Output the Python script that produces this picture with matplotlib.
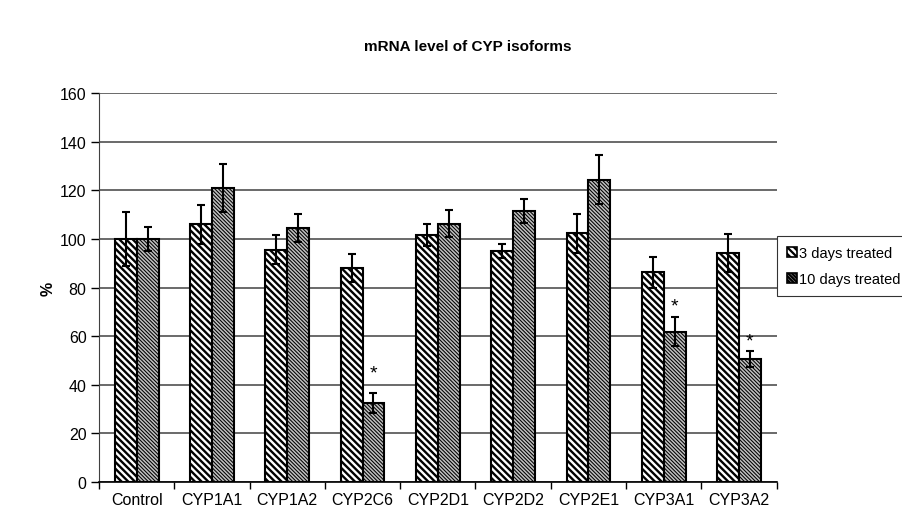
import matplotlib.pyplot as plt
import numpy as np
import matplotlib.patches as mpatches

plt.rcParams['font.family'] = ['Liberation Sans', 'DejaVu Sans']
plt.rcParams['hatch.linewidth'] = 1.6

# data
isoforms = ['Control', 'CYP1A1', 'CYP1A2', 'CYP2C6', 'CYP2D1', 'CYP2D2', 'CYP2E1', 'CYP3A1', 'CYP3A2']
days3 = [100, 106, 95.5, 88, 101.5, 95, 102.3, 86.3, 94.2]
days3_err = [11, 8, 6, 5.7, 4.5, 3, 8, 6.4, 7.7]
days10 = [100, 121, 104.6, 32.5, 106.3, 111.5, 124.4, 61.8, 50.6]
days10_err = [5, 10, 5.8, 4, 5.5, 5, 10, 6, 3.2]
# asterisks (significant, 10 days) and their heights
star_idx = [3, 7, 8]
star_y = [45, 72.5, 58]

hatch3 = '\\' * 5
hatch10 = '\\' * 9

fig = plt.figure(figsize=(9.02, 5.10), dpi=100)
ax = fig.add_axes([0.1098, 0.0529, 0.7512, 0.7628])

x = np.arange(len(isoforms))
w = 0.29

b1 = ax.bar(x - w/2, days3, w, color='white', edgecolor='black', linewidth=1.5,
            hatch=hatch3, zorder=3)
b2 = ax.bar(x + w/2, days10, w, color='#c0c0c0', edgecolor='black', linewidth=1.5,
            hatch=hatch10, zorder=3)
for p in b1:
    if hasattr(p, 'set_hatch_linewidth'):
        p.set_hatch_linewidth(1.7)
for p in b2:
    if hasattr(p, 'set_hatch_linewidth'):
        p.set_hatch_linewidth(0.75)

ax.errorbar(x - w/2, days3, yerr=days3_err, fmt='none', ecolor='black',
            elinewidth=1.5, capsize=3, capthick=1.5, zorder=4)
ax.errorbar(x + w/2, days10, yerr=days10_err, fmt='none', ecolor='black',
            elinewidth=1.5, capsize=3, capthick=1.5, zorder=4)

for i, sy in zip(star_idx, star_y):
    ax.text(x[i] + w/2, sy, '*', ha='center', va='center', fontsize=14, zorder=5)

ax.set_xlim(-0.5, len(isoforms) - 0.5)
ax.set_ylim(0, 160)
ax.set_yticks(np.arange(0, 161, 20))
ax.yaxis.grid(True, color='#505050', linewidth=1.2, zorder=0)
ax.set_axisbelow(True)

ax.set_xticks(x)
ax.set_xticklabels(isoforms, fontsize=11.5)
ax.set_xticks(np.arange(-0.5, len(isoforms)), minor=True)
ax.tick_params(axis='x', which='major', length=0, pad=7)
ax.tick_params(axis='x', which='minor', length=5, width=1, direction='out')
ax.tick_params(axis='y', length=6, width=1, labelsize=11.5, direction='out', pad=3)

for s in ['top', 'right']:
    ax.spines[s].set_visible(False)
ax.spines['left'].set_color('#404040')
ax.spines['bottom'].set_linewidth(1.2)

ax.set_ylabel('%', fontsize=11.5, fontweight='bold', labelpad=3)
fig.text(0.519, 0.908, 'mRNA level of CYP isoforms', ha='center', va='center',
         fontsize=11, fontweight='bold')

h1 = mpatches.Patch(facecolor='white', edgecolor='black', hatch=hatch3, linewidth=1.2)
h2 = mpatches.Patch(facecolor='#c0c0c0', edgecolor='black', hatch=hatch10, linewidth=1.2)
leg = fig.legend([h1, h2], ['3 days treated', '10 days treated'], loc='upper left',
                 bbox_to_anchor=(0.861, 0.536), fontsize=10.5, frameon=True, fancybox=False,
                 edgecolor='black', handlelength=0.7, handleheight=0.7,
                 handletextpad=0.15, borderpad=0.7, labelspacing=0.85, borderaxespad=0)
leg.get_frame().set_linewidth(0.8)

fig.savefig('out.png', dpi=100)
